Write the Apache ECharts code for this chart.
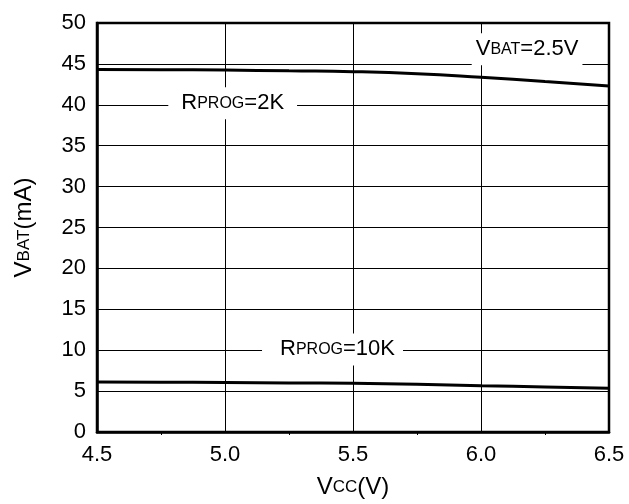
<!DOCTYPE html>
<html>
<head>
<meta charset="utf-8">
<script src="https://cdn.jsdelivr.net/npm/echarts@6/dist/echarts.min.js"></script>
<style>html,body{margin:0;padding:0;background:#fff}#c{width:629px;height:504px}</style>
</head>
<body>
<div id="c"></div>
<script>
const vcc = [4.5, 4.75, 5.0, 5.25, 5.5, 5.75, 6.0, 6.25, 6.5];
const ibat2K = [44.33, 44.3, 44.25, 44.15, 44.05, 43.8, 43.36, 42.85, 42.3];
const ibat10K = [6.1, 6.08, 6.05, 6.0, 5.95, 5.83, 5.66, 5.5, 5.34];
const xTicks = ['4.5', '5.0', '5.5', '6.0', '6.5'];
const annotations = [
  {name: '2K', x: 5.03, y: 40.2},
  {name: '10K', x: 5.42, y: 10.1},
  {name: 'vbat', x: 6.18, y: 46.8}
];
const FONT = '"Liberation Sans", Arial, sans-serif';
const chart = echarts.init(document.getElementById('c'), null, {renderer: 'canvas'});
const rich = {
  big: {fontSize: 22, fontFamily: FONT, color: '#000'},
  small: {fontSize: 16, fontFamily: FONT, color: '#000'},
  bigA: {fontSize: 24, fontFamily: FONT, color: '#000'},
  smallA: {fontSize: 17, fontFamily: FONT, color: '#000'}
};
const annText = {
  '2K': '{big|R}{small|PROG}{big|=2K}',
  '10K': '{big|R}{small|PROG}{big|=10K}',
  'vbat': '{big|V}{small|BAT}{big|=2.5V}'
};
const pad = {'2K': [5, 13, 5, 13], '10K': [5, 8, 5, 18], 'vbat': [5, 4, 5, 4]};
chart.setOption({
  animation: false,
  backgroundColor: '#fff',
  grid: {left: 97, right: 20, top: 23, bottom: 72, show: true, borderColor: '#000', borderWidth: 2.5, backgroundColor: 'transparent'},
  xAxis: {
    type: 'value', min: 4.5, max: 6.5, interval: 0.5,
    name: '{bigA|V}{smallA|CC}{bigA|(V)}', nameLocation: 'middle', nameGap: 43,
    nameTextStyle: {rich: rich},
    axisLine: {show: true, lineStyle: {color: '#000', width: 2.5}},
    axisTick: {show: false},
    minorTick: {show: true, splitNumber: 2, length: 3, lineStyle: {color: '#000', width: 1}},
    axisLabel: {fontSize: 22, fontFamily: FONT, color: '#000', margin: 12,
      formatter: v => xTicks.find(t => Math.abs(parseFloat(t) - v) < 1e-6) || ''},
    splitLine: {show: true, lineStyle: {color: '#000', width: 1}}
  },
  yAxis: {
    type: 'value', min: 0, max: 50, interval: 5,
    name: '{bigA|V}{smallA|BAT}{bigA|(mA)}', nameLocation: 'middle', nameGap: 61,
    nameTextStyle: {rich: rich},
    axisLine: {show: true, lineStyle: {color: '#000', width: 2.5}},
    axisTick: {show: false},
    axisLabel: {fontSize: 22, fontFamily: FONT, color: '#000', margin: 11},
    splitLine: {show: true, lineStyle: {color: '#000', width: 1}}
  },
  series: [
    {type: 'line', data: vcc.map((x, i) => [x, ibat2K[i]]), smooth: true, symbol: 'none',
      lineStyle: {color: '#000', width: 3}, z: 3},
    {type: 'line', data: vcc.map((x, i) => [x, ibat10K[i]]), smooth: true, symbol: 'none',
      lineStyle: {color: '#000', width: 3}, z: 3,
      markPoint: {
        symbol: 'rect', symbolSize: 0, silent: true, z: 5,
        data: annotations.map(a => ({
          coord: [a.x, a.y],
          label: {show: true, position: 'inside', formatter: annText[a.name], rich: rich,
            backgroundColor: '#fff', padding: pad[a.name]}
        }))
      }}
  ]
});
</script>
</body>
</html>
